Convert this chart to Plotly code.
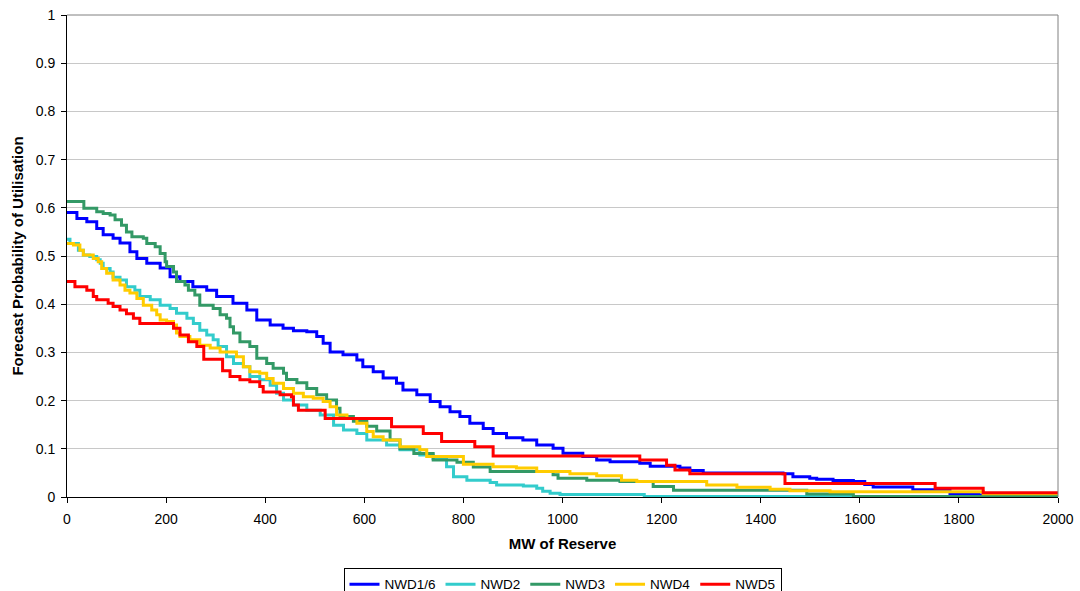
import plotly.graph_objects as go

# ---- data (MW of reserve, probability) ----
nwd16_mw = [0, 20, 40, 60, 73, 93, 107, 127, 141, 161,
            188, 208, 228, 254, 282, 302, 335, 363, 383, 410,
            436, 457, 484, 504, 517, 531, 557, 585, 597, 618,
            638, 665, 678, 706, 733, 753, 773, 793, 813, 840,
            860, 887, 920, 948, 981, 1001, 1041, 1069, 1096, 1156,
            1177, 1237, 1257, 1284, 1445, 1465, 1499, 1513, 1546, 1587,
            1610, 1627, 1707, 1782, 1840, 2000]
nwd16_p = [0.590, 0.578, 0.571, 0.557, 0.544, 0.537, 0.527, 0.509, 0.495, 0.485,
           0.475, 0.457, 0.447, 0.436, 0.429, 0.416, 0.402, 0.388, 0.367, 0.357,
           0.350, 0.345, 0.343, 0.333, 0.319, 0.301, 0.295, 0.284, 0.270, 0.260,
           0.247, 0.236, 0.222, 0.212, 0.198, 0.187, 0.177, 0.167, 0.153, 0.142,
           0.132, 0.123, 0.118, 0.108, 0.101, 0.091, 0.084, 0.077, 0.073, 0.070,
           0.064, 0.060, 0.055, 0.050, 0.048, 0.042, 0.039, 0.037, 0.034, 0.032,
           0.026, 0.021, 0.015, 0.006, 0.004, 0.004]

nwd2_mw = [0, 6, 23, 33, 46, 60, 67, 73, 87, 93,
           107, 120, 137, 147, 168, 188, 208, 221, 242, 255,
           268, 282, 295, 305, 322, 336, 356, 369, 389, 410,
           423, 437, 457, 484, 511, 538, 558, 585, 605, 645,
           672, 712, 739, 766, 780, 807, 854, 867, 921, 948,
           960, 975, 995, 1165, 2000]
nwd2_p = [0.535, 0.526, 0.512, 0.502, 0.499, 0.492, 0.485, 0.474, 0.467, 0.456,
          0.450, 0.436, 0.429, 0.416, 0.409, 0.398, 0.391, 0.381, 0.371, 0.360,
          0.346, 0.336, 0.326, 0.312, 0.291, 0.277, 0.270, 0.250, 0.243, 0.232,
          0.215, 0.201, 0.191, 0.180, 0.170, 0.149, 0.139, 0.132, 0.118, 0.108,
          0.098, 0.087, 0.080, 0.063, 0.042, 0.035, 0.030, 0.025, 0.023, 0.018,
          0.012, 0.008, 0.005, 0.001, 0.001]

nwd3_mw = [0, 34, 60, 73, 87, 97, 110, 120, 131, 154,
           161, 178, 188, 198, 201, 215, 221, 238, 245, 258,
           268, 295, 309, 322, 329, 336, 349, 369, 383, 403,
           416, 437, 443, 464, 484, 504, 524, 544, 551, 578,
           605, 625, 652, 672, 700, 739, 787, 820, 854, 981,
           991, 1049, 1116, 1183, 1224, 1493, 1587, 2000]
nwd3_p = [0.613, 0.599, 0.592, 0.588, 0.585, 0.575, 0.564, 0.550, 0.540, 0.537,
          0.526, 0.519, 0.505, 0.488, 0.478, 0.467, 0.447, 0.440, 0.429, 0.419,
          0.398, 0.391, 0.378, 0.371, 0.353, 0.340, 0.322, 0.312, 0.288, 0.277,
          0.267, 0.257, 0.244, 0.237, 0.225, 0.212, 0.201, 0.184, 0.167, 0.157,
          0.147, 0.137, 0.118, 0.100, 0.090, 0.077, 0.072, 0.062, 0.053, 0.046,
          0.039, 0.035, 0.032, 0.022, 0.014, 0.006, 0.001, 0.001]

nwd4_mw = [0, 13, 26, 33, 53, 63, 70, 80, 93, 107,
           117, 127, 141, 154, 171, 181, 188, 201, 215, 221,
           228, 248, 268, 289, 309, 342, 356, 369, 389, 403,
           416, 437, 457, 477, 497, 517, 531, 544, 565, 585,
           605, 618, 638, 672, 712, 726, 800, 860, 907, 948,
           1015, 1069, 1119, 1150, 1291, 1352, 1419, 1459, 1540, 1849,
           2000]
nwd4_p = [0.526, 0.523, 0.512, 0.502, 0.495, 0.488, 0.474, 0.464, 0.450, 0.440,
          0.429, 0.423, 0.412, 0.398, 0.388, 0.378, 0.367, 0.364, 0.357, 0.340,
          0.333, 0.326, 0.315, 0.309, 0.301, 0.291, 0.270, 0.260, 0.257, 0.246,
          0.236, 0.225, 0.215, 0.208, 0.205, 0.198, 0.187, 0.170, 0.163, 0.153,
          0.136, 0.125, 0.118, 0.104, 0.098, 0.084, 0.068, 0.063, 0.060, 0.053,
          0.048, 0.044, 0.035, 0.032, 0.025, 0.020, 0.016, 0.013, 0.011, 0.007,
          0.007]

nwd5_mw = [0, 16, 40, 53, 60, 83, 93, 107, 120, 134,
           147, 215, 228, 245, 262, 276, 314, 329, 349, 369,
           389, 396, 430, 453, 457, 467, 521, 655, 719, 756,
           823, 860, 1156, 1210, 1227, 1257, 1449, 1752, 1849, 2000]
nwd5_p = [0.447, 0.436, 0.429, 0.416, 0.409, 0.402, 0.395, 0.388, 0.380, 0.371,
          0.360, 0.350, 0.336, 0.322, 0.312, 0.286, 0.262, 0.250, 0.243, 0.239,
          0.229, 0.218, 0.212, 0.208, 0.191, 0.180, 0.163, 0.146, 0.132, 0.115,
          0.104, 0.085, 0.077, 0.066, 0.056, 0.048, 0.028, 0.018, 0.009, 0.009]

series = [
    ("NWD1/6", nwd16_mw, nwd16_p, "#0000FF"),
    ("NWD2", nwd2_mw, nwd2_p, "#33CCCC"),
    ("NWD3", nwd3_mw, nwd3_p, "#339966"),
    ("NWD4", nwd4_mw, nwd4_p, "#FFCC00"),
    ("NWD5", nwd5_mw, nwd5_p, "#FF0000"),
]

x_ticks = [0, 200, 400, 600, 800, 1000, 1200, 1400, 1600, 1800, 2000]
y_ticks = [0, 0.1, 0.2, 0.3, 0.4, 0.5, 0.6, 0.7, 0.8, 0.9, 1]
y_tick_text = ["0", "0.1", "0.2", "0.3", "0.4", "0.5", "0.6", "0.7", "0.8", "0.9", "1"]

FONT = "Liberation Sans, Arial, sans-serif"

fig = go.Figure()
for name, xs, ys, col in series:
    fig.add_trace(go.Scatter(x=xs, y=ys, name=name, mode="lines",
                             line=dict(color=col, width=3, shape="hv")))

fig.update_layout(
    width=1080, height=591,
    margin=dict(l=67, r=22, t=15, b=94, autoexpand=False),
    paper_bgcolor="white", plot_bgcolor="white",
    font=dict(family=FONT, size=14, color="black"),
    showlegend=True,
    legend=dict(orientation="h", x=0.5, xanchor="center", y=-0.147, yanchor="top",
                bordercolor="black", borderwidth=1, font=dict(size=13.5),
                itemwidth=30, tracegroupgap=0),
    xaxis=dict(range=[0, 2000], tickvals=x_ticks, showgrid=False,
               showline=True, linecolor="black", linewidth=1,
               ticks="outside", ticklen=5, tickcolor="black",
               ticklabelstandoff=4,
               zeroline=False, automargin=False,
               title=dict(text="<b>MW of Reserve</b>", standoff=12,
                          font=dict(size=15))),
    yaxis=dict(range=[0, 1], tickvals=y_ticks, ticktext=y_tick_text,
               showgrid=True, gridcolor="#C8C8C8", gridwidth=1,
               showline=True, linecolor="black", linewidth=1,
               ticks="outside", ticklen=5, tickcolor="black",
               ticklabelstandoff=3,
               zeroline=False, automargin=False,
               title=dict(text="<b>Forecast Probability of Utilisation</b>",
                          standoff=8, font=dict(size=15))),
)

# grey plot-area border on top and right (Excel style)
fig.add_shape(type="line", xref="paper", yref="paper", x0=0, x1=1, y0=1, y1=1,
              line=dict(color="#808080", width=1))
fig.add_shape(type="line", xref="paper", yref="paper", x0=1, x1=1, y0=0, y1=1,
              line=dict(color="#808080", width=1))

fig.write_html("out.html", config={"displayModeBar": False},
               post_script="document.body.style.margin='0';document.body.style.padding='0';")
